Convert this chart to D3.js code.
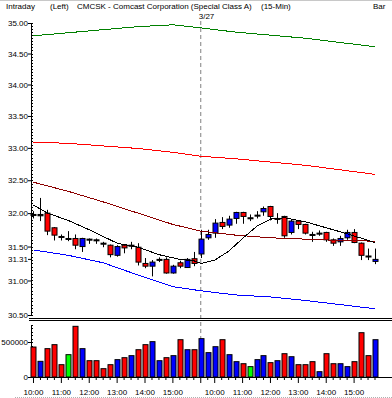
<!DOCTYPE html>
<html>
<head>
<meta charset="utf-8">
<script src="https://cdn.jsdelivr.net/npm/d3@7"></script>
<style>
  body { margin: 0; background: #fff; }
  text { font-family: "Liberation Sans", Arial, sans-serif; font-size: 8px; fill: #000; }
</style>
</head>
<body>
<div class="chart"></div>
<script>
// 15-min bars, two sessions
const dates = ["3/26", "3/27"];
const day1Times = ["10:00", "10:15", "10:30", "10:45", "11:00", "11:15", "11:30", "11:45",
  "12:00", "12:15", "12:30", "12:45", "13:00", "13:15", "13:30", "13:45",
  "14:00", "14:15", "14:30", "14:45", "15:00", "15:15", "15:30", "15:45"];
const day2Times = ["9:30", "9:45", "10:00", "10:15", "10:30", "10:45", "11:00", "11:15", "11:30", "11:45",
  "12:00", "12:15", "12:30", "12:45", "13:00", "13:15", "13:30", "13:45",
  "14:00", "14:15", "14:30", "14:45", "15:00", "15:15", "15:30", "15:45"];
const hourLabels = ["10:00", "11:00", "12:00", "13:00", "14:00", "15:00"];

const opens = [31.98, 31.96, 32.00, 31.78, 31.65, 31.62, 31.62, 31.50, 31.61, 31.60, 31.55, 31.52,
  31.37, 31.52, 31.51, 31.49, 31.25, 31.21, 31.30, 31.31, 31.11, 31.26, 31.19, 31.32,
  31.39, 31.63, 31.70, 31.86, 31.82, 31.92, 32.01, 31.93, 31.96, 32.02, 32.10, 31.91, 31.95,
  31.71, 31.88, 31.83, 31.68, 31.69, 31.71, 31.60, 31.57, 31.63, 31.71, 31.55, 31.36, 31.28];
const highs = [32.03, 32.23, 32.05, 31.79, 31.68, 31.73, 31.68, 31.63, 31.62, 31.62, 31.57, 31.53,
  31.52, 31.53, 31.57, 31.55, 31.33, 31.30, 31.34, 31.34, 31.23, 31.29, 31.33, 31.42,
  31.75, 31.75, 31.91, 31.94, 31.96, 32.02, 32.02, 31.98, 32.03, 32.10, 32.11, 32.00, 31.96,
  31.91, 31.89, 31.84, 31.72, 31.74, 31.72, 31.62, 31.66, 31.75, 31.76, 31.56, 31.47, 31.47];
const lows = [31.92, 31.88, 31.67, 31.59, 31.59, 31.58, 31.46, 31.42, 31.54, 31.54, 31.49, 31.34,
  31.35, 31.40, 31.46, 31.22, 31.18, 31.06, 31.27, 31.10, 31.10, 31.18, 31.19, 31.21,
  31.33, 31.60, 31.63, 31.76, 31.78, 31.84, 31.84, 31.88, 31.92, 31.96, 31.89, 31.84, 31.63,
  31.68, 31.76, 31.68, 31.57, 31.66, 31.57, 31.51, 31.51, 31.60, 31.55, 31.30, 31.30, 31.24];
const closes = [31.97, 31.98, 31.73, 31.67, 31.64, 31.62, 31.52, 31.62, 31.60, 31.59, 31.54, 31.38,
  31.50, 31.48, 31.52, 31.27, 31.21, 31.27, 31.31, 31.11, 31.21, 31.21, 31.31, 31.25,
  31.61, 31.68, 31.85, 31.80, 31.91, 32.01, 31.95, 31.93, 31.97, 32.07, 31.95, 31.92, 31.66,
  31.88, 31.83, 31.70, 31.67, 31.70, 31.60, 31.55, 31.62, 31.71, 31.56, 31.37, 31.35, 31.31];
const volumes = [428000, 224000, 405000, 462000, 176000, 319000, 724000, 405000, 233000, 233000, 119000, 176000,
  248000, 276000, 305000, 390000, 462000, 505000, 233000, 276000, 305000, 533000, 390000, 390000,
  548000, 348000, 433000, 533000, 319000, 219000, 190000, 148000, 248000, 305000, 205000, 233000, 333000,
  290000, 176000, 176000, 219000, 76000, 333000, 190000, 190000, 148000, 219000, 633000, 305000, 533000];

// overlay studies, read at these bar indexes
const bandIdx = [0, 5, 10, 15, 20, 24, 29, 34, 39, 44, 49];
const greenBand = [34.79, 34.84, 34.89, 34.94, 34.97, 34.92, 34.85, 34.80, 34.75, 34.68, 34.61];
const redBand = [33.09, 33.07, 33.03, 32.99, 32.93, 32.87, 32.83, 32.78, 32.73, 32.66, 32.59];
const maroonBand = [32.47, 32.33, 32.17, 32.00, 31.83, 31.73, 31.67, 31.63, 31.61, 31.59, 31.58];
const blueBand = [31.45, 31.37, 31.26, 31.08, 30.91, 30.85, 30.79, 30.76, 30.71, 30.65, 30.59];
const maIdx = [0, 2, 5, 8, 10, 12, 15, 18, 21, 23, 24, 26, 28, 30, 32, 34, 36, 39, 42, 45, 49];
const maValues = [32.12, 32.00, 31.89, 31.75, 31.65, 31.55, 31.49, 31.38, 31.31, 31.29, 31.25, 31.30,
  31.43, 31.62, 31.80, 31.91, 31.93, 31.87, 31.78, 31.69, 31.56];

const priceTicks = [35, 34.5, 34, 33.5, 33, 32.5, 32, 31.5, 31, 30.5];
const lastPrice = 31.31;
const volumeTicks = [0, 500000];

const bars = day1Times.map(t => dates[0] + " " + t).concat(day2Times.map(t => dates[1] + " " + t));
const candles = bars.map((k, i) => ({ key: k, o: opens[i], h: highs[i], l: lows[i], c: closes[i], v: volumes[i] }));

function barColor(d) {
  if (d.c > d.o) return "#0000ff";
  if (d.c < d.o) return "#ff0000";
  return "#00ff00";
}

const svg = d3.select(".chart").append("svg").attr("width", 392).attr("height", 398);

const x = d3.scaleBand().domain(bars).range([30, 378.5]);
const xc = k => x(k) + x.bandwidth() / 2;
const y = d3.scaleLog().domain([30.5, 35]).range([315, 23]);
const yv = d3.scaleLinear().domain([0, 500000]).range([377, 342]);

// frame bits
svg.append("line").attr("x1", 0).attr("x2", 392).attr("y1", 0.5).attr("y2", 0.5).attr("stroke", "#c8c8c8");
svg.append("line").attr("x1", 15).attr("x2", 392).attr("y1", 397.5).attr("y2", 397.5)
  .attr("stroke", "#b0b0b0").attr("stroke-dasharray", "1,1");

// header
svg.append("text").attr("x", 6).attr("y", 9).text("Intraday");
svg.append("text").attr("x", 50).attr("y", 9).text("(Left)");
svg.append("text").attr("x", 77).attr("y", 9).text("CMCSK - Comcast Corporation (Special Class A)");
svg.append("text").attr("x", 261).attr("y", 9).text("(15-Min)");
svg.append("text").attr("x", 373).attr("y", 9).text("Bar");

// session break
const dayKey = dates[1] + " " + day2Times[0];
svg.append("line")
  .attr("x1", xc(dayKey)).attr("x2", xc(dayKey))
  .attr("y1", 21).attr("y2", 377)
  .attr("stroke", "#808080")
  .attr("stroke-dasharray", "4,3");
svg.append("text").attr("x", xc(dayKey) - 2).attr("y", 19).text(dates[1]);

// price axis
const priceAxis = d3.axisLeft(y).tickValues(priceTicks).tickFormat(d3.format(".2f"))
  .tickSize(3).tickSizeOuter(0).tickPadding(0);
const pa = svg.append("g").attr("transform", "translate(31,0)").call(priceAxis);
pa.select(".domain").attr("stroke", "#000");
pa.selectAll("text").attr("font-size", null).attr("font-family", null);

pa.append("g").selectAll("line")
  .data(d3.range(30.5, 35.001, 0.05))
  .join("line")
  .attr("x1", 0).attr("x2", 2)
  .attr("y1", d => Math.round(y(d)) + 0.5).attr("y2", d => Math.round(y(d)) + 0.5)
  .attr("stroke", "#000");

const lp = pa.append("g").attr("transform", "translate(0," + y(lastPrice) + ")");
lp.append("line").attr("x1", -3).attr("x2", 0).attr("stroke", "#000");
lp.append("text").attr("x", -3).attr("dy", "0.32em").attr("text-anchor", "end").text(lastPrice.toFixed(2));

// panel separator
svg.append("line").attr("x1", 29).attr("x2", 392).attr("y1", 318.5).attr("y2", 318.5).attr("stroke", "#000");
svg.append("line").attr("x1", 29).attr("x2", 392).attr("y1", 320.5).attr("y2", 320.5).attr("stroke", "#000");

// candles
const cg = svg.append("g");
cg.selectAll("line.wick")
  .data(candles)
  .join("line")
  .attr("class", "wick")
  .attr("x1", d => Math.round(xc(d.key)) + 0.5).attr("x2", d => Math.round(xc(d.key)) + 0.5)
  .attr("y1", d => y(d.h)).attr("y2", d => y(d.l))
  .attr("stroke", "#000");
cg.selectAll("rect.body")
  .data(candles)
  .join("rect")
  .attr("class", "body")
  .attr("x", d => Math.round(xc(d.key)) - 2)
  .attr("width", 5)
  .attr("y", d => Math.min(y(d.o), y(d.c)))
  .attr("height", d => Math.max(Math.abs(y(d.o) - y(d.c)), 1))
  .attr("fill", d => Math.abs(y(d.o) - y(d.c)) < 1.5 ? "#000" : barColor(d))
  .attr("stroke", "#000");

// studies (drawn aliased like the original)
const line = d3.line().x(d => xc(bars[d[0]])).y(d => y(d[1]));
function drawStudy(idx, vals, color) {
  svg.append("path")
    .datum(idx.map((i, n) => [i, vals[n]]))
    .attr("d", line)
    .attr("fill", "none")
    .attr("stroke", color)
    .attr("stroke-width", 1)
    .attr("shape-rendering", "crispEdges");
}
drawStudy(bandIdx, greenBand, "#008000");
drawStudy(bandIdx, redBand, "#ff0000");
drawStudy(bandIdx, maroonBand, "#8b0000");
drawStudy(bandIdx, blueBand, "#0000ff");
drawStudy(maIdx, maValues, "#000");

// volume panel
svg.append("line").attr("x1", 31.5).attr("x2", 31.5).attr("y1", 325).attr("y2", 377).attr("stroke", "#000");
const volAxis = d3.axisLeft(yv).tickValues(volumeTicks).tickFormat(d3.format("d"))
  .tickSize(3).tickSizeOuter(0).tickPadding(0);
const va = svg.append("g").attr("transform", "translate(31,0)").call(volAxis);
va.select(".domain").remove();
va.selectAll("text").attr("font-size", null).attr("font-family", null);
va.append("g").selectAll("line")
  .data(d3.range(0, 750001, 50000))
  .join("line")
  .attr("x1", 0).attr("x2", 2)
  .attr("y1", d => Math.round(yv(d)) + 0.5).attr("y2", d => Math.round(yv(d)) + 0.5)
  .attr("stroke", "#000");

svg.append("g").selectAll("rect")
  .data(candles)
  .join("rect")
  .attr("x", d => Math.round(xc(d.key)) - 2)
  .attr("width", 5)
  .attr("y", d => yv(d.v))
  .attr("height", d => yv(0) - yv(d.v))
  .attr("fill", barColor)
  .attr("stroke", "#000");

// time axis
const isHour = k => hourLabels.includes(k.split(" ")[1]) || k === dayKey;
const timeAxis = d3.axisBottom(x).tickValues(bars)
  .tickFormat(k => hourLabels.includes(k.split(" ")[1]) ? k.split(" ")[1] : "")
  .tickSize(3).tickSizeOuter(0).tickPadding(9);
const ta = svg.append("g").attr("transform", "translate(0,377)").call(timeAxis);
ta.select(".domain").remove();
ta.selectAll("text").attr("font-size", null).attr("font-family", null);
ta.selectAll(".tick line").attr("y2", d => isHour(d) ? 6 : 3);
svg.append("line").attr("x1", 31).attr("x2", 392).attr("y1", 377.5).attr("y2", 377.5).attr("stroke", "#000");
</script>
</body>
</html>
